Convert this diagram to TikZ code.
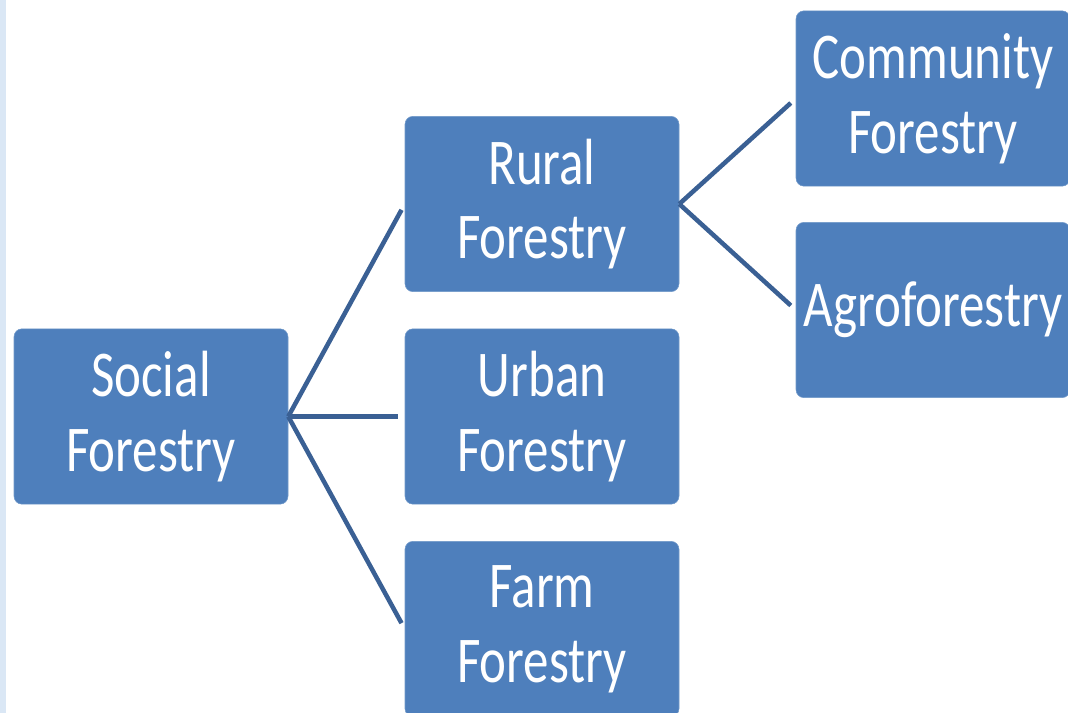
\documentclass[tikz,border=0pt]{standalone}
\usepackage{fontspec}
\setmainfont{Carlito}[FakeStretch=0.78]
\usepackage{tikz}
\definecolor{ColBox}{RGB}{78,127,188}
\definecolor{ColEdge}{RGB}{58,96,148}
\definecolor{ColStripe}{RGB}{218,231,245}
\tikzstyle{NodeBox}=[rectangle,rounded corners=6pt,draw=ColBox!80!white,fill=ColBox,text=white,
minimum width=205.5pt,minimum height=131.5pt,inner sep=0pt,align=center,
font=\fontsize{49}{56}\selectfont]
\tikzstyle{EdgeTree}=[ColEdge,line width=3.4pt,shorten >=5pt]
\begin{document}
\begin{tikzpicture}[x=0.75pt,y=-0.75pt]
        \useasboundingbox(0,0)rectangle(1068,713);
        \fill[ColStripe](0,0)rectangle(6,713);
        \node[NodeBox](soc)at(151,416.5){Social\\Forestry};
        \node[NodeBox](rur)at(542,204){Rural\\Forestry};
        \node[NodeBox](urb)at(542,416.5){Urban\\Forestry};
        \node[NodeBox](frm)at(542,629){Farm\\Forestry};
        \node[NodeBox](com)at(933,98.5){Community\\Forestry};
        \node[NodeBox](agr)at(933,310){Agroforestry};
        \draw[EdgeTree](soc.east)--(rur.west);
        \draw[EdgeTree](soc.east)--(urb.west);
        \draw[EdgeTree](soc.east)--(frm.west);
        \draw[EdgeTree](rur.east)--(com.west);
        \draw[EdgeTree](rur.east)--(agr.west);
    \end{tikzpicture}
\end{document}
